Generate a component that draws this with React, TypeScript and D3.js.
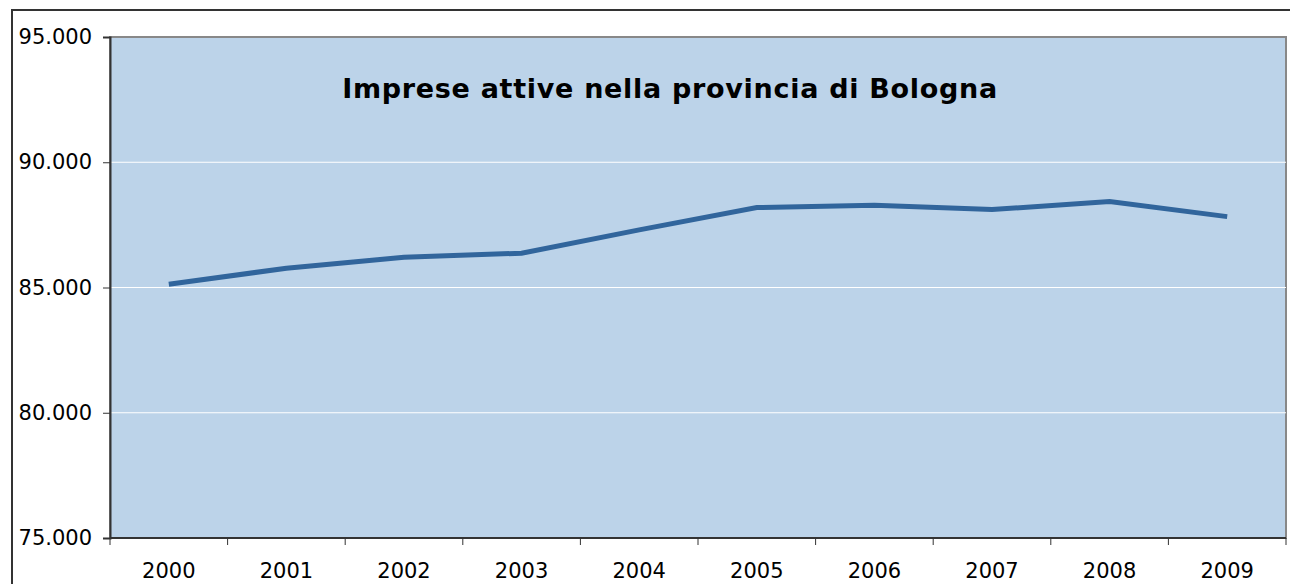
import { useEffect, useRef } from 'react'
import * as d3 from 'd3'

// anni e numero di imprese attive
const years = ['2000', '2001', '2002', '2003', '2004', '2005', '2006', '2007', '2008', '2009']
const imprese = [85130, 85770, 86210, 86370, 87300, 88190, 88280, 88110, 88430, 87830]
const yTicks = [75000, 80000, 85000, 90000, 95000]

const App = () => {
  const ref = useRef<SVGSVGElement>(null)

  useEffect(() => {
    const width = 1290
    const height = 584
    const margin = { top: 37, right: 4, bottom: 46, left: 110 }
    const font = 'Verdana, "DejaVu Sans", sans-serif'

    const svg = d3.select(ref.current)
    svg.selectAll('*').remove()

    const x = d3.scaleBand()
      .domain(years)
      .range([margin.left, width - margin.right])

    const y = d3.scaleLinear()
      .domain([75000, 95000])
      .range([height - margin.bottom, margin.top])

    // chart border
    svg.append('rect')
      .attr('x', 12).attr('y', 10)
      .attr('width', width).attr('height', height)
      .attr('fill', 'white')
      .attr('stroke', '#333').attr('stroke-width', 2)

    // plot area
    svg.append('rect')
      .attr('x', margin.left).attr('y', margin.top)
      .attr('width', width - margin.right - margin.left)
      .attr('height', y(75000) - y(95000))
      .attr('fill', '#bcd3e9')
      .attr('stroke', '#888').attr('stroke-width', 2)

    // gridlines
    svg.append('g')
      .selectAll('line')
      .data(yTicks.slice(1, -1))
      .join('line')
      .attr('x1', margin.left).attr('x2', width - margin.right)
      .attr('y1', d => y(d)).attr('y2', d => y(d))
      .attr('stroke', 'white').attr('stroke-width', 1)

    // y axis
    const fmt = (d: number) => d3.format(',')(d).replace(',', '.')
    svg.append('g')
      .attr('transform', `translate(${margin.left},0)`)
      .call(d3.axisLeft(y).tickValues(yTicks).tickFormat(d => fmt(d as number)).tickSize(7).tickPadding(11))
      .call(g => g.select('.domain').attr('stroke', '#333').attr('stroke-width', 2))
      .call(g => g.selectAll('.tick line').attr('stroke', '#333'))
      .call(g => g.selectAll('.tick text').attr('font-size', 21).attr('font-family', font).attr('fill', '#000'))

    // x axis
    const xTickPos = d3.range(years.length + 1).map(i => margin.left + i * x.step())
    const xg = svg.append('g').attr('transform', `translate(0,${y(75000)})`)
    xg.append('line')
      .attr('x1', margin.left).attr('x2', width - margin.right)
      .attr('stroke', '#333').attr('stroke-width', 2)
    xg.selectAll('.tk')
      .data(xTickPos)
      .join('line')
      .attr('x1', d => d).attr('x2', d => d)
      .attr('y1', 0).attr('y2', 7)
      .attr('stroke', '#333')
    xg.selectAll('text')
      .data(years)
      .join('text')
      .attr('x', d => x(d)! + x.bandwidth() / 2)
      .attr('y', 40)
      .attr('text-anchor', 'middle')
      .attr('font-size', 21).attr('font-family', font)
      .text(d => d)

    // line
    const line = d3.line<number>()
      .x((_, i) => x(years[i])! + x.bandwidth() / 2)
      .y(d => y(d))
    svg.append('path')
      .datum(imprese)
      .attr('d', line)
      .attr('fill', 'none')
      .attr('stroke', '#31659c')
      .attr('stroke-width', 5)

    // title
    svg.append('text')
      .attr('x', 670).attr('y', 98)
      .attr('text-anchor', 'middle')
      .attr('font-size', 27).attr('font-weight', 'bold')
      .attr('font-family', font)
      .attr('letter-spacing', 0.7)
      .text('Imprese attive nella provincia di Bologna')
  }, [])

  return <svg ref={ref} width={1290} height={584} style={{ position: 'absolute', left: 0, top: 0 }} />
}

export default App
